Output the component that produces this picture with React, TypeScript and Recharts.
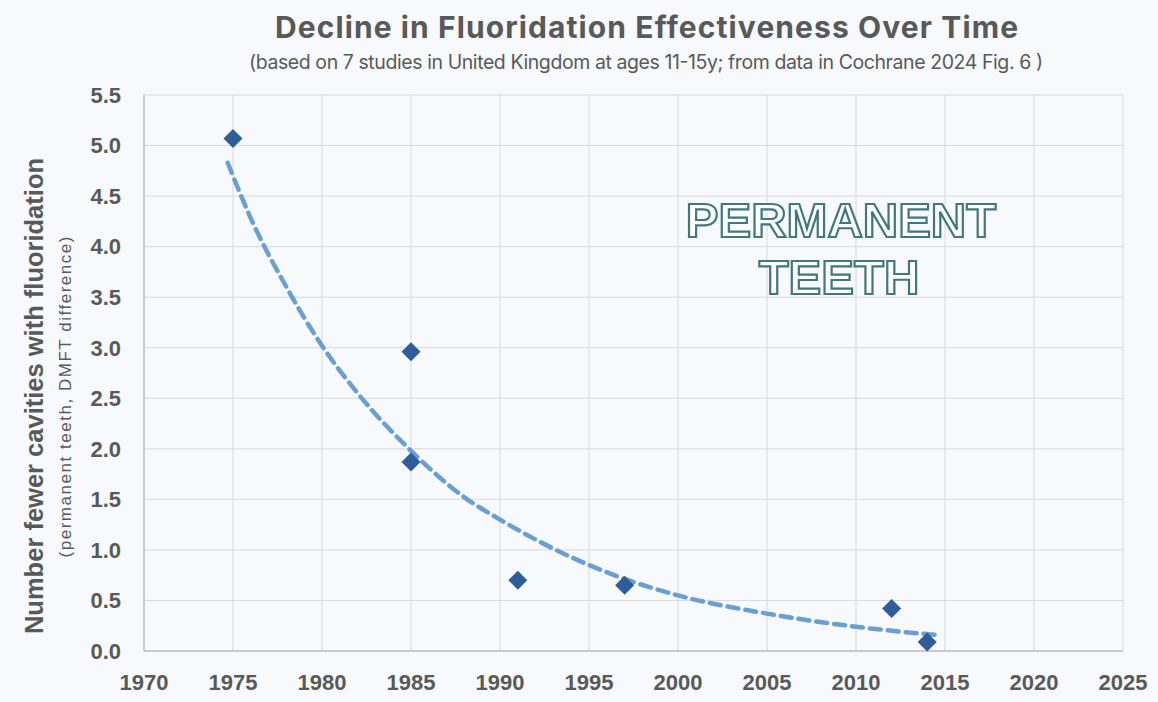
import React from "react";
import {
  ComposedChart,
  Scatter,
  Line,
  XAxis,
  YAxis,
  CartesianGrid,
} from "recharts";

// Study points (year, DMFT difference)
const studyYears = [1975, 1985, 1985, 1991, 1997, 2012, 2014];
const studyValues = [5.07, 2.96, 1.87, 0.7, 0.65, 0.42, 0.09];

// Trendline
const trendYears = [1974.7, 1976, 1978, 1980, 1982, 1985, 1988, 1990, 1995, 2000, 2005, 2010, 2014.7];
const trendValues = [4.83, 4.28, 3.6, 3.02, 2.55, 1.98, 1.52, 1.3, 0.85, 0.55, 0.37, 0.24, 0.155];

const xTicks = [1970, 1975, 1980, 1985, 1990, 1995, 2000, 2005, 2010, 2015, 2020, 2025];
const yTicks = [0, 0.5, 1, 1.5, 2, 2.5, 3, 3.5, 4, 4.5, 5, 5.5];

const title = "Decline in Fluoridation Effectiveness Over Time";
const subtitle =
  "(based on 7 studies in United Kingdom at ages 11-15y; from data in Cochrane 2024 Fig. 6 )";
const yLabel = "Number fewer cavities with fluoridation";
const yLabel2 = "(permanent  teeth, DMFT difference)";
const note1 = "PERMANENT";
const note2 = "TEETH";

const studyData = studyYears.map((x, i) => ({ x, y: studyValues[i] }));
const trendData = trendYears.map((x, i) => ({ x, y: trendValues[i] }));

const W = 1158;
const H = 702;
const BG = "#f7f9fc";
const TEXT = "#595959";

const Diamond = (props: any) => {
  const { cx, cy } = props;
  if (cx == null || cy == null) return null;
  const r = 9.5;
  return (
    <path
      d={`M${cx},${cy - r}L${cx + r},${cy}L${cx},${cy + r}L${cx - r},${cy}Z`}
      fill="#2f5d9a"
    />
  );
};

export default function App() {
  return (
    <div
      style={{
        position: "absolute",
        left: 0,
        top: 0,
        width: W,
        height: H,
        background: BG,
      }}
    >
      <ComposedChart
        width={W}
        height={H}
        margin={{ top: 95, right: 35, bottom: 21, left: 0 }}
      >
        <CartesianGrid stroke="#d9d9d9" strokeWidth={1} />
        <XAxis
          type="number"
          dataKey="x"
          domain={[1970, 2025]}
          ticks={xTicks}
          allowDataOverflow
          height={30}
          tickLine={false}
          tickSize={0}
          tickMargin={23}
          axisLine={{ stroke: "#bfbfbf", strokeWidth: 1.5 }}
          tick={{
            fill: TEXT,
            fontSize: 22,
            fontWeight: 700,
            fontFamily: "Liberation Sans, Arial, sans-serif",
          }}
        />
        <YAxis
          type="number"
          dataKey="y"
          domain={[0, 5.5]}
          ticks={yTicks}
          width={144}
          tickLine={false}
          tickSize={0}
          tickMargin={23}
          axisLine={{ stroke: "#bfbfbf", strokeWidth: 1.5 }}
          tickFormatter={(v: number) => v.toFixed(1)}
          tick={{
            fill: TEXT,
            fontSize: 22,
            fontWeight: 700,
            fontFamily: "Liberation Sans, Arial, sans-serif",
          }}
        />
        <Line
          data={trendData}
          dataKey="y"
          type="monotone"
          stroke="#6a9fd3"
          strokeWidth={4.5}
          strokeDasharray="11 7"
          strokeLinecap="round"
          dot={false}
          activeDot={false}
          isAnimationActive={false}
        />
        <Scatter
          data={studyData}
          dataKey="y"
          shape={Diamond}
          isAnimationActive={false}
        />
      </ComposedChart>
      <svg
        width={W}
        height={H}
        style={{ position: "absolute", left: 0, top: 0, pointerEvents: "none" }}
      >
        <text
          x={646.5}
          y={38}
          textAnchor="middle"
          fontFamily="Inter, Liberation Sans, sans-serif"
          fontWeight={700}
          fontSize={30}
          fill={TEXT}
          textLength={743}
          lengthAdjust="spacing"
        >
          {title}
        </text>
        <text
          x={646}
          y={68.5}
          textAnchor="middle"
          fontFamily="Inter, Liberation Sans, sans-serif"
          fontWeight={400}
          fontSize={19.5}
          fill={TEXT}
          textLength={794}
          lengthAdjust="spacing"
        >
          {subtitle}
        </text>
        <text
          transform="translate(43,396) rotate(-90)"
          textAnchor="middle"
          fontFamily="Liberation Sans, Arial, sans-serif"
          fontWeight={700}
          fontSize={25.5}
          fill={TEXT}
        >
          {yLabel}
        </text>
        <text
          transform="translate(71,397) rotate(-90)"
          textAnchor="middle"
          fontFamily="Liberation Sans, Arial, sans-serif"
          fontWeight={400}
          fontSize={17}
          fill={TEXT}
          textLength={321}
          lengthAdjust="spacing"
        >
          {yLabel2}
        </text>
        <text
          x={841}
          y={236.5}
          textAnchor="middle"
          fontFamily="Liberation Sans, Arial, sans-serif"
          fontWeight={700}
          fontSize={49}
          fill="#ffffff"
          stroke="#41787f"
          strokeWidth={2.2}
        >
          {note1}
        </text>
        <text
          x={839}
          y={293.5}
          textAnchor="middle"
          fontFamily="Liberation Sans, Arial, sans-serif"
          fontWeight={700}
          fontSize={49}
          fill="#ffffff"
          stroke="#41787f"
          strokeWidth={2.2}
        >
          {note2}
        </text>
      </svg>
    </div>
  );
}
